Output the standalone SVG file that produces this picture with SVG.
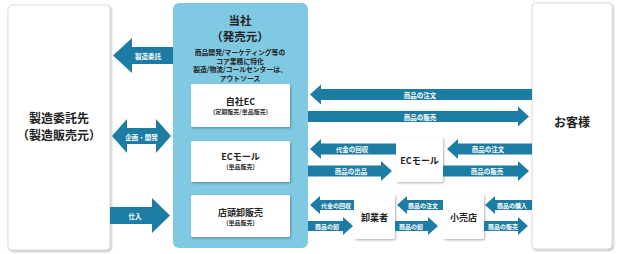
<svg xmlns="http://www.w3.org/2000/svg" width="622" height="254" viewBox="0 0 622 254">
<defs>
<filter id="sh" x="-10%" y="-10%" width="130%" height="130%">
<feDropShadow dx="1" dy="1.2" stdDeviation="1" flood-color="#000" flood-opacity="0.3"/>
</filter>
<style>
text{font-family:"Noto Sans CJK JP","Noto Sans",sans-serif;font-weight:bold;text-anchor:middle;dominant-baseline:central}
.box{fill:#fff;stroke:#d4d4d4;stroke-width:0.8}
.inner{fill:#fff}
.panel{fill:#7fc9e3}
.arr{fill:#1d7ca3}
.al{fill:#fff;font-size:6.5px}
.as{fill:#fff;font-size:6px}
.big{fill:#222;font-size:12px}
.mid{fill:#222;font-size:11.5px}
.t9{fill:#222;font-size:9px}
.sub{fill:#333;font-size:6px}
.sm{fill:#222;font-size:6.8px}
</style>
</defs>
<rect width="622" height="254" fill="#fff"/>

<g id="maker">
<rect class="box" x="8" y="5" width="102" height="245" rx="4" filter="url(#sh)"/>
<text class="big" x="59" y="117.5">製造委託先</text>
<text class="big" x="59" y="134.5">（製造販売元）</text>
</g>

<g id="company">
<rect class="panel" x="173" y="3" width="135" height="245" rx="6"/>
<text class="mid" x="240" y="19.5">当社</text>
<text class="mid" x="240" y="36">（発売元）</text>
<text class="sm" x="240" y="52">商品開発/マーケティング等の</text>
<text class="sm" x="240" y="60.5">コア業務に特化</text>
<text class="sm" x="240" y="69">製造/物流/コールセンターは、</text>
<text class="sm" x="240" y="77.5">アウトソース</text>
</g>

<g id="own-ec">
<rect class="inner" x="191" y="84" width="99" height="43" rx="1.5" filter="url(#sh)"/>
<text class="t9" x="240.5" y="101">自社EC</text>
<text class="sub" x="240.5" y="111">(定期販売/単品販売)</text>
</g>

<g id="ec-mall-channel">
<rect class="inner" x="191" y="141" width="99" height="41" rx="1.5" filter="url(#sh)"/>
<text class="t9" x="240.5" y="156">ECモール</text>
<text class="sub" x="240.5" y="166">(単品販売)</text>
</g>

<g id="store-wholesale">
<rect class="inner" x="191" y="195" width="99" height="42" rx="1.5" filter="url(#sh)"/>
<text class="t9" x="240.5" y="212">店頭卸販売</text>
<text class="sub" x="240.5" y="222">(単品販売)</text>
</g>

<g id="customer">
<rect class="box" x="532" y="3" width="80" height="246" rx="4" filter="url(#sh)"/>
<text class="big" x="572" y="121">お客様</text>
</g>

<g id="ec-mall">
<rect class="inner" x="396" y="137" width="47" height="45" rx="2" filter="url(#sh)"/>
<text class="t9" x="419.5" y="160">ECモール</text>
</g>

<g id="wholesaler">
<rect class="inner" x="354" y="194" width="41" height="45" rx="2" filter="url(#sh)"/>
<text class="t9" x="374.5" y="217">卸業者</text>
</g>

<g id="retailer">
<rect class="inner" x="443" y="194" width="41" height="45" rx="2" filter="url(#sh)"/>
<text class="t9" x="463.5" y="217">小売店</text>
</g>

<g id="connectors">
<polygon class="arr" points="113,55.5 132,38 132,47 173,47 173,64 132,64 132,73"/>
<text class="al" x="148" y="56">製造委託</text>
<polygon class="arr" points="112,136 127,119 127,128 156,128 156,119 171,136 156,153 156,144 127,144 127,153"/>
<text class="al" x="141.5" y="136.5">企画・開発</text>
<polygon class="arr" points="110,207 152,207 152,198 170,215.5 152,233 152,224 110,224"/>
<text class="al" x="135" y="216">仕入</text>

<polygon class="arr" points="310,94.5 321,84.5 321,89 532,89 532,100 321,100 321,104.5"/>
<text class="al" x="420" y="94.5">商品の注文</text>
<polygon class="arr" points="308,111 518,111 518,106.5 529,116.5 518,126.5 518,122 308,122"/>
<text class="al" x="420" y="116.5">商品の販売</text>

<polygon class="arr" points="310,149 321,139 321,143.5 396,143.5 396,154.5 321,154.5 321,159"/>
<text class="al" x="352" y="149">代金の回収</text>
<polygon class="arr" points="308,165.5 381,165.5 381,161 392,171 381,181 381,176.5 308,176.5"/>
<text class="al" x="351" y="171">商品の出品</text>
<polygon class="arr" points="447,149 458,139 458,143.5 532,143.5 532,154.5 458,154.5 458,159"/>
<text class="al" x="488" y="149">商品の注文</text>
<polygon class="arr" points="443,165.5 518,165.5 518,161 529,171 518,181 518,176.5 443,176.5"/>
<text class="al" x="487" y="171">商品の販売</text>

<polygon class="arr" points="310,205 320,196 320,200 354,200 354,210 320,210 320,214"/>
<text class="as" x="336" y="205">代金の回収</text>
<polygon class="arr" points="308,221 343,221 343,217 353,226 343,235 343,231 308,231"/>
<text class="as" x="327" y="226">商品の卸</text>
<polygon class="arr" points="397,205 407,196 407,200 443,200 443,210 407,210 407,214"/>
<text class="as" x="423" y="205">商品の注文</text>
<polygon class="arr" points="395,221 428,221 428,217 438,226 428,235 428,231 395,231"/>
<text class="as" x="411" y="226">商品の卸</text>
<polygon class="arr" points="485,205 495,196 495,200 532,200 532,210 495,210 495,214"/>
<text class="as" x="512" y="205">商品の購入</text>
<polygon class="arr" points="484,221 518,221 518,217 528,226 518,235 518,231 484,231"/>
<text class="as" x="503" y="226">商品の販売</text>
</g>
</svg>
